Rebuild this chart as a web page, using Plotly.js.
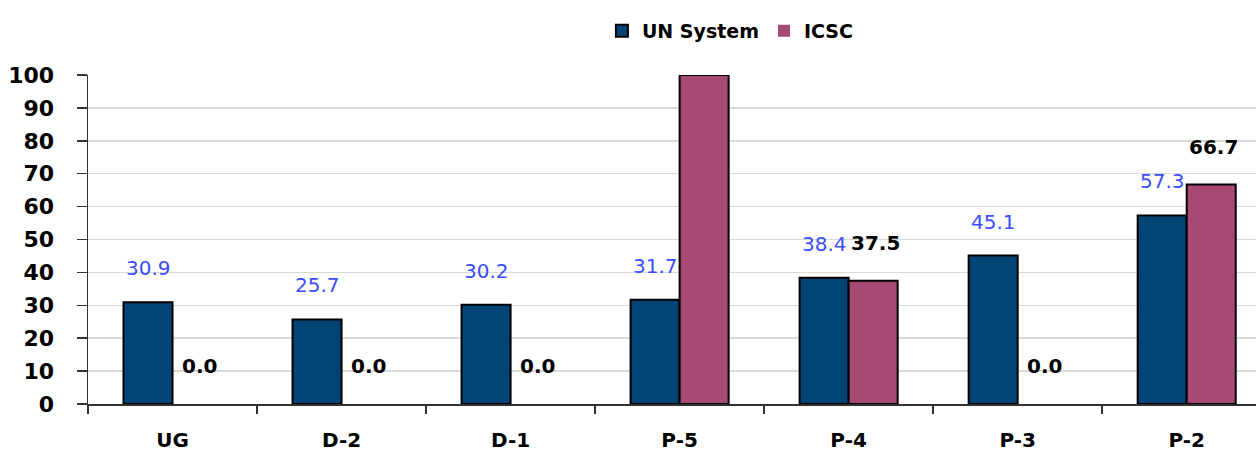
<!DOCTYPE html>
<html><head><meta charset="utf-8">
<script src="https://cdn.plot.ly/plotly-3.0.1.min.js"></script>
<style>body{margin:0;background:#fff}#c{width:1256px;height:458px}</style>
</head><body><div id="c"></div>
<script>
var categories = ["UG","D-2","D-1","P-5","P-4","P-3","P-2"];
var unSystem = [30.9,25.7,30.2,31.7,38.4,45.1,57.3];
var icsc = [0.0,0.0,0.0,100,37.5,0.0,66.7];
var seriesNames = ["UN System","ICSC"];
var yTicks = [0,10,20,30,40,50,60,70,80,90,100];

var F = "DejaVu Sans, Arial, sans-serif";
function borders(v){ return v.map(function(d){ return d > 0 ? 2 : 0; }); }
var traces = [
 {type:"bar", name:seriesNames[0], x:categories, y:unSystem,
  marker:{color:"#024476", line:{color:"#000", width:borders(unSystem)}}},
 {type:"bar", name:seriesNames[1], x:categories, y:icsc,
  marker:{color:"#a64a74", line:{color:"#000", width:borders(icsc)}}}
];
var ann = [];
categories.forEach(function(c,i){
  ann.push({x:c, y:unSystem[i], xref:"x", yref:"y", text:unSystem[i].toFixed(1),
    showarrow:false, xshift:-24, yshift:34, font:{family:F, size:20, color:"#3a4dff"}});
  if (icsc[i] < 100) ann.push({x:c, y:icsc[i], xref:"x", yref:"y", text:icsc[i].toFixed(1),
    showarrow:false, xshift:27, yshift:38, font:{family:F, size:20, color:"#000", weight:"bold"}});
});
var layout = {
  width:1256, height:458, paper_bgcolor:"#fff", plot_bgcolor:"#fff",
  margin:{l:88, r:0, t:75, b:54},
  barmode:"group", bargap:0.42, bargroupgap:0,
  font:{family:F, color:"#000"},
  showlegend:true,
  legend:{orientation:"h", x:0.55, xanchor:"center", y:1.134, yanchor:"middle",
    font:{family:F, size:19, color:"#000", weight:"bold"}, traceorder:"normal",
    itemwidth:30},
  xaxis:{type:"category", range:[-0.5,6.41], tickson:"boundaries", ticks:"outside",
    ticklen:8, tickwidth:1.5, tickcolor:"#333", showline:true, linecolor:"#333", linewidth:1.5,
    showgrid:false, tickfont:{family:F, size:20, color:"#000", weight:"bold"},
    ticklabelstandoff:17, fixedrange:true},
  yaxis:{range:[0,100], tickvals:yTicks, ticks:"outside", ticklen:10, tickwidth:1.5,
    tickcolor:"#333", showline:true, linecolor:"#333", linewidth:1.5,
    showgrid:true, gridcolor:"#d9d9d9", gridwidth:1.5, zeroline:false, automargin:false,
    tickfont:{family:F, size:22, color:"#000", weight:"bold"}, ticklabelstandoff:18},
  annotations:ann
};
Plotly.newPlot("c", traces, layout, {staticPlot:true});
</script></body></html>
